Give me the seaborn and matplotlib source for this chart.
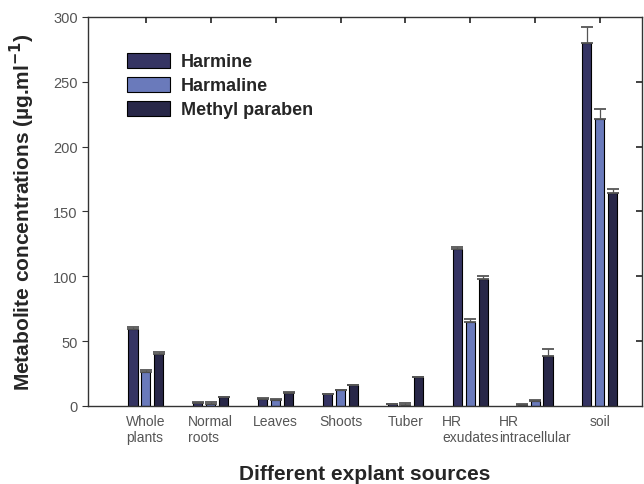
import numpy as np
import pandas as pd
import matplotlib
matplotlib.use("Agg")
import matplotlib.pyplot as plt
import seaborn as sns

categories = ["Whole\nplants", "Normal\nroots", "Leaves", "Shoots", "Tuber",
              "HR\nexudates", "HR\nintracellular", "soil"]
series = ["Harmine", "Harmaline", "Methyl paraben"]
harmine = [59, 2.5, 5.5, 9, 1.5, 121, 1, 280]
harmaline = [26.5, 1.5, 4.5, 12, 1, 65, 3.5, 221]
methyl_paraben = [40, 6.5, 10, 16, 22, 98, 38.5, 164.5]
harmine_err = [2, 0.5, 0.5, 0.5, 0.3, 1.5, 0.3, 12]
harmaline_err = [1.5, 1.5, 0.5, 0.5, 1.5, 2, 0.8, 8]
methyl_err = [1.5, 0.5, 0.5, 0.5, 0.5, 2.5, 5.5, 3]
yticks = [0, 50, 100, 150, 200, 250, 300]

colors = ["#2e2c6b", "#5c72c8", "#23214d"]

sns.set_style("ticks")
plt.rcParams["font.family"] = ["Liberation Sans", "DejaVu Sans"]

rows = []
for name, vals, errs in zip(series, [harmine, harmaline, methyl_paraben],
                            [harmine_err, harmaline_err, methyl_err]):
    for c, v, e in zip(categories, vals, errs):
        rows.append({"source": c, "compound": name, "value": v, "err": e})
df = pd.DataFrame(rows)

fig = plt.figure(figsize=(6.44, 4.85), dpi=100)
ax = fig.add_axes([0.137, 0.161, 0.860, 0.802])

sns.barplot(data=df, x="source", y="value", hue="compound", order=categories,
            hue_order=series, palette=colors, width=0.6, gap=0.3,
            edgecolor="black", linewidth=0.8, errorbar=None, ax=ax)

# error bars (upper only) at the bar centres
for cont, name in zip(ax.containers, series):
    sub = df[df["compound"] == name]
    xs = [p.get_x() + p.get_width() / 2 for p in cont.patches]
    ys = [p.get_height() for p in cont.patches]
    errs = sub["err"].to_numpy()
    ax.errorbar(xs, ys, yerr=[np.zeros_like(errs), errs], fmt="none",
                ecolor="#555555", elinewidth=0.9, capsize=4.5, capthick=1.3,
                zorder=1)

ax.set_xlim(-0.89, 7.65)
ax.set_ylim(0, 300)
ax.set_yticks(yticks)
ax.tick_params(axis="y", direction="out", length=4, colors="#333333",
               labelcolor="#555555", labelsize=10.5)
ax.tick_params(axis="x", length=0, labelcolor="#555555", labelsize=10, pad=6)
for lbl in ax.get_xticklabels():
    lbl.set_multialignment("left")

for s in ax.spines.values():
    s.set_visible(True)
    s.set_color("#333333")
    s.set_linewidth(1.0)

# inward ticks on the right and top frame, drawn as tick lines
trans_r = ax.get_yaxis_transform()
for yt in yticks[1:-1]:
    ax.plot([0.989, 1.0], [yt, yt], transform=trans_r, color="#222222",
            lw=1.2, clip_on=False, solid_capstyle="butt", zorder=5)
trans_t = ax.get_xaxis_transform()
for xt in range(len(categories)):
    ax.plot([xt, xt], [0.985, 1.0], transform=trans_t, color="#222222",
            lw=1.2, clip_on=False, solid_capstyle="butt", zorder=5)

ax.set_xlabel("Different explant sources", fontsize=15, fontweight="bold",
              labelpad=14)
ax.set_ylabel("Metabolite concentrations (µg.ml$^{\\mathbf{-1}}$)", fontsize=15,
              fontweight="bold", labelpad=12)

leg = ax.legend(loc="upper left", bbox_to_anchor=(0.04, 0.95), frameon=False,
                prop={"weight": "bold", "size": 13}, handlelength=2.4,
                handleheight=0.9, labelspacing=0.35, handletextpad=0.6,
                title=None)

fig.savefig("out.png", dpi=100)
